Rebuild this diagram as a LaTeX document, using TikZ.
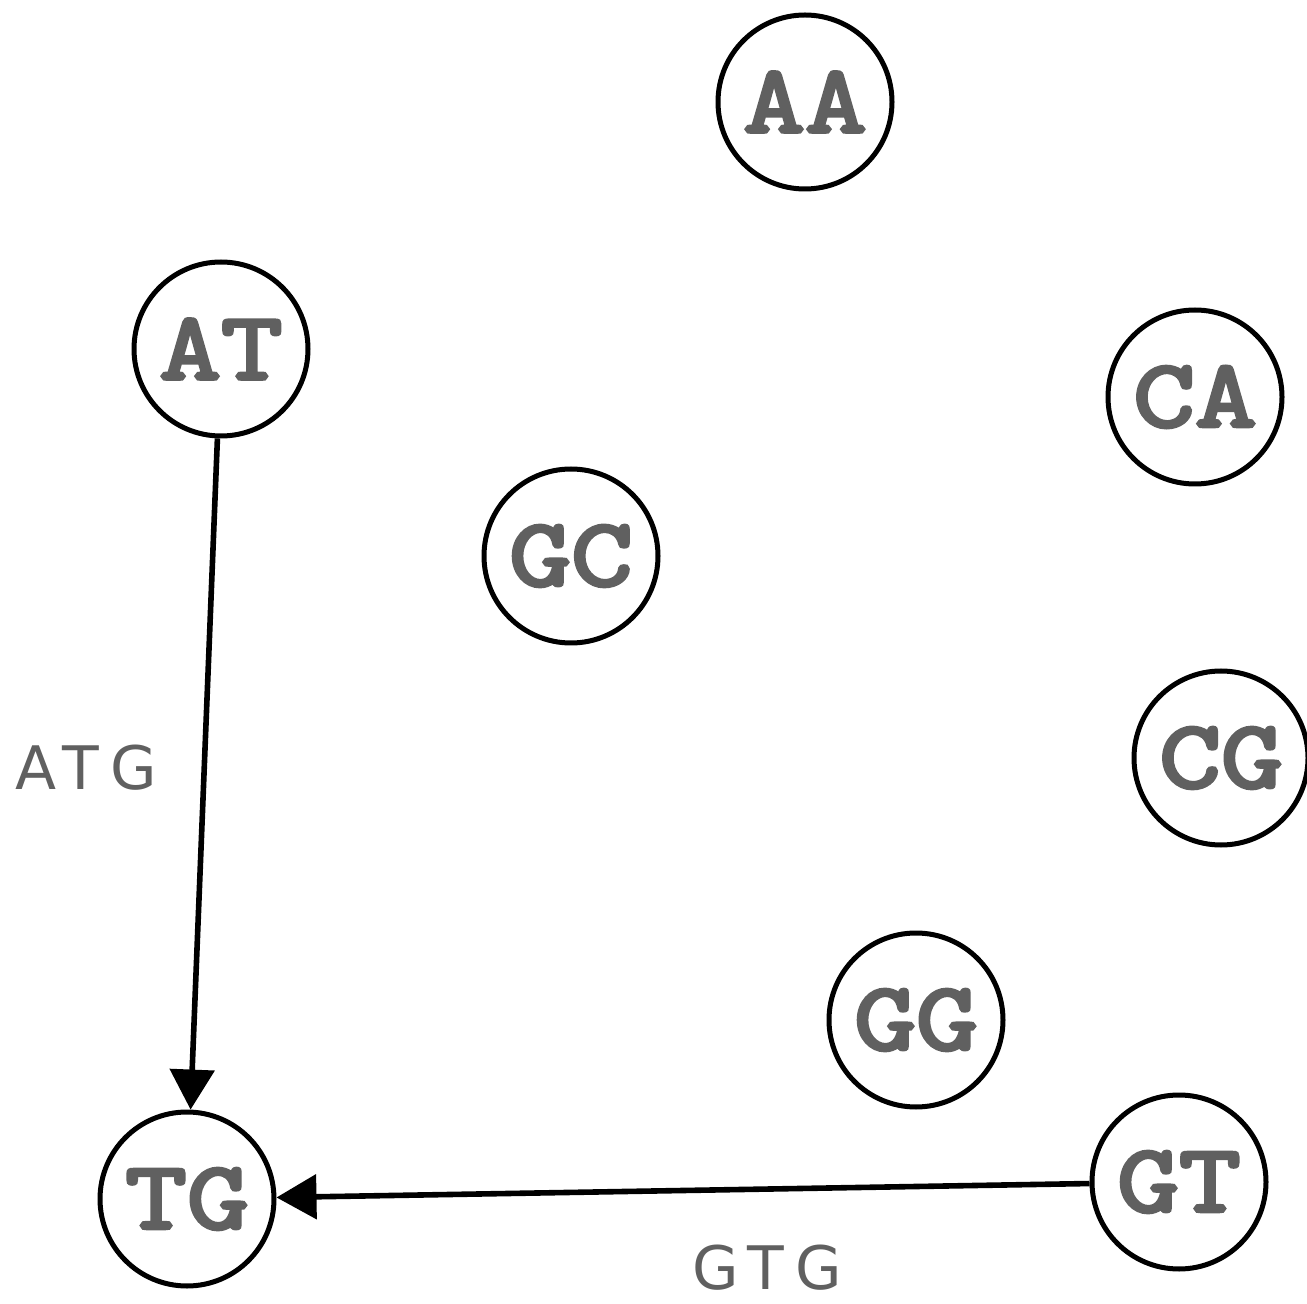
\documentclass[tikz,border=0pt]{standalone}
\usepackage{fontspec}
\newfontfamily\monob{Latin Modern Mono}[FakeBold=4,FakeStretch=1.25]
\newfontfamily\hand{DejaVu Sans}[LetterSpace=18]
\usetikzlibrary{arrows.meta}
\definecolor{txt}{HTML}{606060}
\tikzset{
  state/.style={circle, draw=black, line width=2.5pt, minimum size=87pt, inner sep=0pt,
    font=\monob\fontsize{48}{48}\selectfont, text=txt},
  edge/.style={line width=2.8pt, -{Triangle[length=20pt,width=22pt]}},
  elabel/.style={font=\hand\fontsize{30}{30}\selectfont, text=txt, inner sep=0pt}
}
\begin{document}
\begin{tikzpicture}[x=0.5pt,y=-0.5pt]
\useasboundingbox (0,0) rectangle (1307,1304);
\node[state] (AA) at (805,102) {AA};
\node[state] (AT) at (221,349) {AT};
\node[state] (CA) at (1195,397) {CA};
\node[state] (GC) at (571,556) {GC};
\node[state] (CG) at (1221,758) {CG};
\node[state] (GG) at (916,1020) {GG};
\node[state] (GT) at (1179,1182) {GT};
\node[state] (TG) at (187,1199) {TG};
\draw[edge] (AT) -- (TG);
\draw[edge] (GT) -- (TG);
\node[elabel] (l1) at (86,768) {ATG};
\node[elabel] (l2) at (767,1268) {GTG};
\end{tikzpicture}
\end{document}
